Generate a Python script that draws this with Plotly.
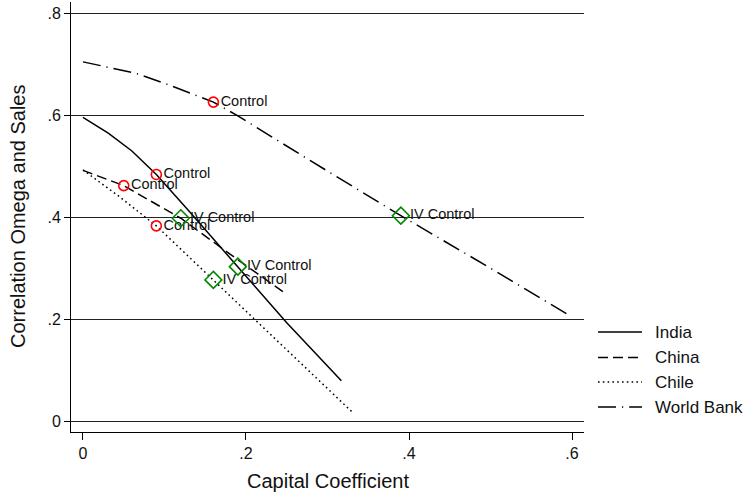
import plotly.graph_objects as go

# Curves: correlation of omega and sales against the capital coefficient
series_names = ["India", "China", "Chile", "World Bank"]

india_x = [0, 0.031, 0.06, 0.09, 0.13, 0.19, 0.25, 0.317]
india_y = [0.596, 0.565, 0.53, 0.484, 0.412, 0.303, 0.193, 0.079]

china_x = [0, 0.05, 0.12, 0.18, 0.246]
china_y = [0.492, 0.462, 0.398, 0.328, 0.253]

chile_x = [0, 0.045, 0.09, 0.16, 0.25, 0.332]
chile_y = [0.493, 0.44, 0.383, 0.277, 0.14, 0.015]

wb_x = [0, 0.064, 0.10, 0.16, 0.189, 0.28, 0.39, 0.50, 0.598]
wb_y = [0.705, 0.683, 0.663, 0.626, 0.600, 0.51, 0.403, 0.30, 0.206]

# Point estimates (India, China, Chile, World Bank)
control_x = [0.09, 0.05, 0.09, 0.16]
control_y = [0.484, 0.462, 0.383, 0.626]
iv_x = [0.19, 0.12, 0.16, 0.39]
iv_y = [0.303, 0.398, 0.277, 0.403]

x_ticks = [0, 0.2, 0.4, 0.6]
x_tick_labels = ["0", ".2", ".4", ".6"]
y_ticks = [0, 0.2, 0.4, 0.6, 0.8]
y_tick_labels = ["0", ".2", ".4", ".6", ".8"]

FONT = "Liberation Sans, Arial, Helvetica, sans-serif"
INK = "#111111"

dashes = ["solid", "10px,5px", "1.6px,3.2px", "18px,6px,1.2px,6px"]
curves = [(india_x, india_y), (china_x, china_y), (chile_x, chile_y), (wb_x, wb_y)]

fig = go.Figure()
for name, (xs, ys), dash in zip(series_names, curves, dashes):
    fig.add_trace(go.Scatter(
        x=xs, y=ys, mode="lines", name=name, showlegend=False,
        line=dict(color="black", width=1.5, dash=dash),
    ))

fig.add_trace(go.Scatter(
    x=control_x, y=control_y, mode="markers+text", showlegend=False,
    text=["Control"] * len(control_x), textposition="middle right",
    textfont=dict(family=FONT, size=14.5, color=INK),
    marker=dict(symbol="circle-open", size=10, color="#ff0000",
                line=dict(width=1.6, color="#ff0000")),
))
fig.add_trace(go.Scatter(
    x=iv_x, y=iv_y, mode="markers+text", showlegend=False,
    text=["IV Control"] * len(iv_x), textposition="middle right",
    textfont=dict(family=FONT, size=14.5, color=INK),
    marker=dict(symbol="diamond-open", size=13, color="#008800",
                line=dict(width=1.6, color="#008800")),
))

# Plot box in pixels: left 71, right 584, top 2, bottom 432
L, R, T, B = 71, 584, 2, 432
W, H = 749, 492
pw, ph = R - L, B - T

def px(xp):
    return (xp - L) / pw

def py(yp):
    return (B - yp) / ph

shapes = []
annotations = []

# Legend drawn at the right of the plot box
legend_rows = [332, 357.5, 382, 407]
for name, dash, yrow in zip(series_names, dashes, legend_rows):
    shapes.append(dict(type="line", xref="paper", yref="paper",
                       x0=px(598), x1=px(642), y0=py(yrow), y1=py(yrow),
                       line=dict(color="black", width=1.5, dash=dash)))
    annotations.append(dict(xref="paper", yref="paper", x=px(653), y=py(yrow),
                            text=name, showarrow=False, xanchor="left",
                            yanchor="middle",
                            font=dict(family=FONT, size=17, color=INK)))

# Axis titles
annotations.append(dict(xref="paper", yref="paper", x=px(18), y=0.5,
                        text="Correlation Omega and Sales", textangle=-90,
                        showarrow=False, xanchor="center", yanchor="middle",
                        font=dict(family=FONT, size=20, color=INK)))
annotations.append(dict(xref="paper", yref="paper", x=0.5, y=py(481),
                        text="Capital Coefficient", showarrow=False,
                        xanchor="center", yanchor="middle",
                        font=dict(family=FONT, size=20, color=INK)))

fig.update_layout(
    width=W, height=H,
    margin=dict(l=L, r=W - R, t=T, b=H - B, pad=0),
    paper_bgcolor="white", plot_bgcolor="white",
    font=dict(family=FONT, color=INK),
    shapes=shapes, annotations=annotations,
    showlegend=False,
)

fig.update_xaxes(
    range=[-0.0147, 0.6147], tickvals=x_ticks, ticktext=x_tick_labels,
    showgrid=False, zeroline=False,
    showline=True, linecolor="black", linewidth=1,
    ticks="outside", ticklen=7, tickcolor="black", tickwidth=1,
    tickfont=dict(family=FONT, size=16, color=INK),
)
fig.update_yaxes(
    range=[-0.0216, 0.8225], tickvals=y_ticks, ticktext=y_tick_labels,
    showgrid=True, gridcolor="#222222", gridwidth=1, zeroline=False,
    showline=True, linecolor="black", linewidth=1,
    ticks="outside", ticklen=6, tickcolor="black", tickwidth=1,
    tickfont=dict(family=FONT, size=16, color=INK),
)

fig.write_html("out.html")
